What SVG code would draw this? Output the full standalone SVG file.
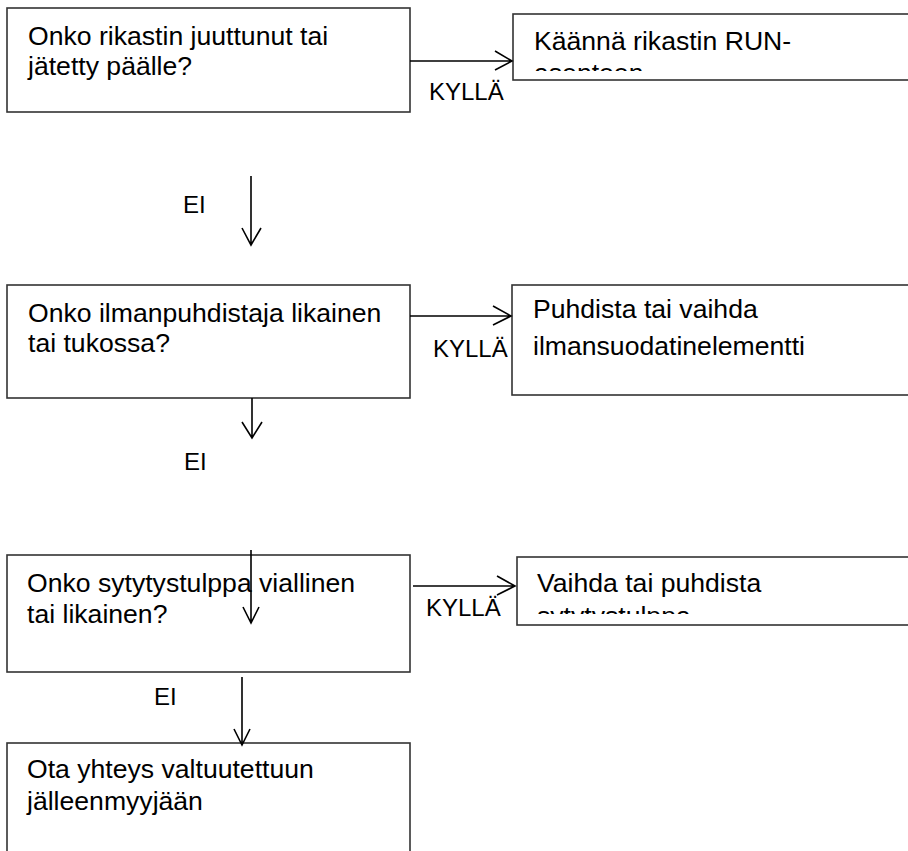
<svg xmlns="http://www.w3.org/2000/svg" width="908" height="851" viewBox="0 0 908 851">
<style>
.box{fill:#fff;stroke:#333;stroke-width:1.6}
.t{font-family:"Liberation Sans",Arial,sans-serif;font-size:26.6px;fill:#000}
.lbl{font-family:"Liberation Sans",Arial,sans-serif;font-size:24px;fill:#000}
.c{fill:none;stroke:#000;stroke-width:1.6}
</style>
<defs>
<clipPath id="clipR1"><rect x="513" y="14" width="400" height="57"/></clipPath>
<clipPath id="clipR3"><rect x="517" y="557" width="400" height="57"/></clipPath>
</defs>
<rect width="908" height="851" fill="#fff"/>
<g id="q1">
<rect class="box" x="7" y="8" width="403" height="104"/>
<text class="t" x="28" y="45">Onko rikastin juuttunut tai</text>
<text class="t" x="28" y="75">jätetty päälle?</text>
</g>
<g id="a1">
<rect class="box" x="513" y="14" width="410" height="66"/>
<g clip-path="url(#clipR1)">
<text class="t" x="534" y="50">Käännä rikastin RUN-</text>
<text class="t" x="534" y="82">asentoon</text>
</g>
</g>
<g id="q2">
<rect class="box" x="7" y="285" width="403" height="113"/>
<text class="t" x="28" y="322">Onko ilmanpuhdistaja likainen</text>
<text class="t" x="28" y="352">tai tukossa?</text>
</g>
<g id="a2">
<rect class="box" x="512" y="285" width="410" height="110"/>
<text class="t" x="533" y="318">Puhdista tai vaihda</text>
<text class="t" x="533" y="355">ilmansuodatinelementti</text>
</g>
<g id="q3">
<rect class="box" x="7" y="555" width="403" height="117"/>
<text class="t" x="27" y="592">Onko sytytystulppa viallinen</text>
<text class="t" x="27" y="623">tai likainen?</text>
</g>
<g id="a3">
<rect class="box" x="517" y="557" width="410" height="68"/>
<g clip-path="url(#clipR3)">
<text class="t" x="537" y="592">Vaihda tai puhdista</text>
<text class="t" x="537" y="625">sytytystulppa</text>
</g>
</g>
<g id="q4">
<rect class="box" x="7" y="743" width="403" height="130"/>
<text class="t" x="27" y="778">Ota yhteys valtuutettuun</text>
<text class="t" x="27" y="810">jälleenmyyjään</text>
</g>
<g id="connectors">
<path class="c" d="M410 61H512M495 51L512 61L495 70"/>
<text class="lbl" x="429" y="100">KYLLÄ</text>
<path class="c" d="M251 176V245M242 228L251 245L261 228"/>
<text class="lbl" x="183" y="213">EI</text>
<path class="c" d="M410 316H511M493 306L511 316L493 325"/>
<text class="lbl" x="433" y="357">KYLLÄ</text>
<path class="c" d="M252 398V438M242 422L252 438L262 422"/>
<text class="lbl" x="184" y="470">EI</text>
<path class="c" d="M251 550V623M243 607L251 623L259 607"/>
<path class="c" d="M413 586H515M497 576L515 586L497 595"/>
<text class="lbl" x="426" y="616">KYLLÄ</text>
<path class="c" d="M242 677V745M234 729L242 745L250 729"/>
<text class="lbl" x="154" y="705">EI</text>
</g>
</svg>
